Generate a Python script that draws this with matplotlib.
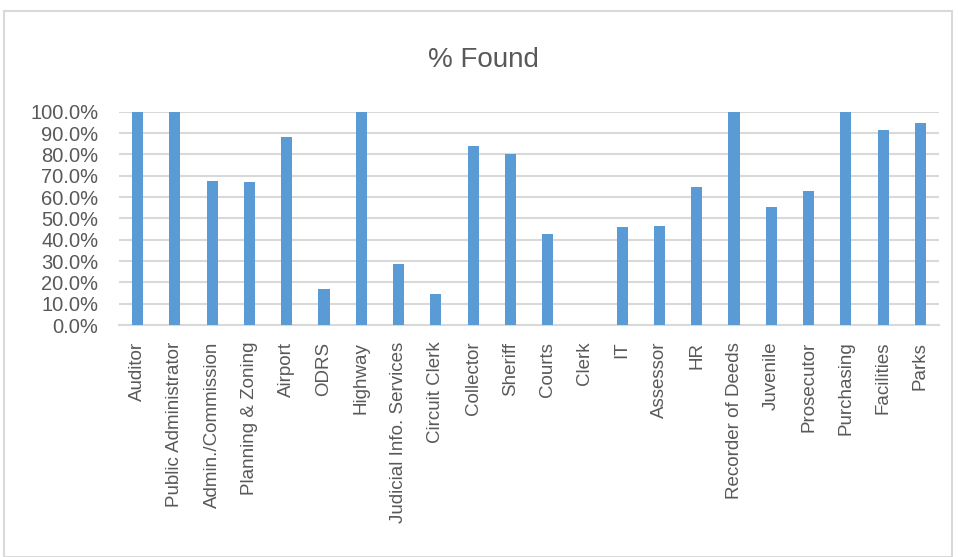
import matplotlib
matplotlib.use('Agg')
import matplotlib.pyplot as plt
from matplotlib.patches import Rectangle
from matplotlib.ticker import FuncFormatter, MultipleLocator

# 数据
departments = ['Auditor', 'Public Administrator', 'Admin./Commission', 'Planning & Zoning',
               'Airport', 'ODRS', 'Highway', 'Judicial Info. Services', 'Circuit Clerk',
               'Collector', 'Sheriff', 'Courts', 'Clerk', 'IT', 'Assessor', 'HR',
               'Recorder of Deeds', 'Juvenile', 'Prosecutor', 'Purchasing', 'Facilities', 'Parks']
pct_found = [1.000, 1.000, 0.676, 0.669, 0.880, 0.167, 1.000, 0.284, 0.144,
             0.837, 0.803, 0.428, 0.0, 0.458, 0.464, 0.645, 1.000, 0.555,
             0.627, 1.000, 0.916, 0.945]

plt.rcParams['font.family'] = ['Liberation Sans', 'DejaVu Sans']

fig = plt.figure(figsize=(9.58, 5.57), dpi=100)
ax = fig.add_axes([0.1242, 0.4165, 0.856, 0.383])

x = list(range(len(departments)))
ax.bar(x, pct_found, width=0.3, color='#5b9bd5', zorder=3)

ax.set_xlim(-0.5, len(departments) - 0.5)
ax.set_ylim(0, 1.0)
ax.yaxis.set_major_locator(MultipleLocator(0.1))
ax.yaxis.set_major_formatter(FuncFormatter(lambda v, p: '{:.1f}%'.format(v * 100)))
ax.grid(axis='y', color='#d9d9d9', linewidth=1.5, zorder=0)
ax.set_axisbelow(True)

ax.set_xticks(x)
ax.set_xticklabels(departments, rotation=90, ha='center', va='top')
ax.tick_params(axis='x', length=0, labelsize=13.5, labelcolor='#595959', pad=12)
ax.tick_params(axis='y', length=0, labelsize=14.5, labelcolor='#595959', pad=15)

for s in ['top', 'right', 'left']:
    ax.spines[s].set_visible(False)
ax.spines['bottom'].set_color('#d9d9d9')
ax.spines['bottom'].set_linewidth(1.5)

fig.text(0.505, 0.893, '% Found', ha='center', va='center', fontsize=20, color='#595959')

# 外框
fig.patches.append(Rectangle((4 / 958, 0), 948 / 958, 1 - 11 / 557, transform=fig.transFigure,
                             fill=False, edgecolor='#d9d9d9', linewidth=1.5))

fig.savefig('out.png', dpi=100)
